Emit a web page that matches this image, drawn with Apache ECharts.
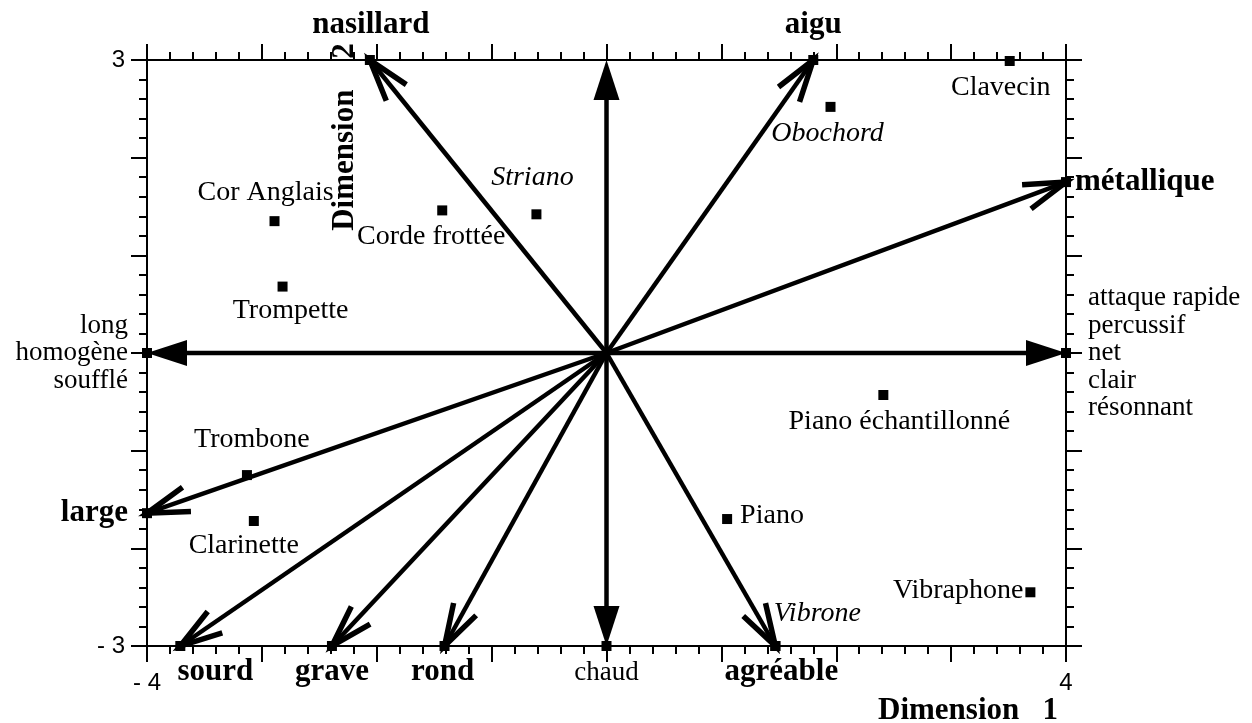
<!DOCTYPE html>
<html><head><meta charset="utf-8">
<script src="https://cdn.jsdelivr.net/npm/echarts@6/dist/echarts.min.js"></script>
<style>html,body{margin:0;padding:0;background:#fff}#c{width:1252px;height:723px}</style>
</head><body><div id="c"></div>
<script>
// ---- data ----
const instrumentNames = ['Clavecin','Obochord','Striano','Corde frottée','Cor Anglais','Trompette','Piano échantillonné','Trombone','Clarinette','Piano','Vibraphone','Vibrone'];
const instrumentX = [3.51, 1.95, -0.61, -1.43, -2.89, -2.82, 2.41, -3.13, -3.07, 1.05, 3.69, 1.47];
const instrumentY = [2.99, 2.52, 1.42, 1.46, 1.35, 0.68, -0.43, -1.25, -1.72, -1.70, -2.45, -3.0];

const poleNames = ['nasillard','aigu','métallique','attaque rapide\npercussif\nnet\nclair\nrésonnant','chaud','agréable','rond','grave','sourd','large','long\nhomogène\nsoufflé',''];
const poleX = [-2.06, 1.80, 4, 4, 0, 1.47, -1.41, -2.39, -3.71, -4, -4, 0];
const poleY = [3, 3, 1.75, 0, -3, -3, -3, -3, -3, -1.64, 0, 3];
const poleHeads = ['open','open','open','filled','filled','open','open','open','open','open','filled','filled'];

const xTickValues = [-4, 4];
const xTickTexts = ['- 4', '4'];
const yTickValues = [-3, 3];
const yTickTexts = ['- 3', '3'];

// ---- layout / style config ----
const SERIF = '"Liberation Serif", "Times New Roman", serif';
const SANS = '"Liberation Sans", Arial, sans-serif';
const instrumentLabelLayout = {
  'Clavecin': {offset: [-9, 27]},
  'Obochord': {offset: [-3, 27], italic: true},
  'Striano': {offset: [-4, -37], italic: true},
  'Corde frottée': {offset: [-11, 26]},
  'Cor Anglais': {offset: [-9, -29]},
  'Trompette': {offset: [8, 24]},
  'Piano échantillonné': {offset: [16, 27]},
  'Trombone': {offset: [5, -35]},
  'Clarinette': {offset: [-10, 25]},
  'Piano': {position: 'right', distance: 8, offset: [0, -3]},
  'Vibraphone': {position: 'left', distance: 2, offset: [0, -2]},
  'Vibrone': {offset: [42, -32], italic: true}
};
const poleLabelLayout = {
  'nasillard': {offset: [1, -35], bold: true},
  'aigu': {offset: [0, -35], bold: true},
  'métallique': {position: 'right', distance: 4, bold: true},
  'attaque rapide\npercussif\nnet\nclair\nrésonnant': {position: 'right', distance: 17, align: 'left'},
  'chaud': {offset: [0, 27]},
  'agréable': {offset: [6, 26], bold: true},
  'rond': {offset: [-2, 26], bold: true},
  'grave': {offset: [0, 26], bold: true},
  'sourd': {offset: [35, 26], bold: true},
  'large': {position: 'left', distance: 14, bold: true},
  'long\nhomogène\nsoufflé': {position: 'left', distance: 14, align: 'right'}
};

function tickFormatter(values, texts) {
  return function (v) {
    const i = values.findIndex(t => Math.abs(t - v) < 1e-9);
    return i >= 0 ? texts[i] : '';
  };
}

function axisCommon(extra) {
  return Object.assign({
    type: 'value',
    interval: 1,
    axisLine: {show: true, onZero: false, lineStyle: {color: '#000', width: 2}},
    axisTick: {show: true, inside: false, length: 16, lineStyle: {color: '#000', width: 2}},
    minorTick: {show: true, splitNumber: 5, length: 8, lineStyle: {color: '#000', width: 2}},
    splitLine: {show: false},
    minorSplitLine: {show: false}
  }, extra);
}

const instrumentData = instrumentNames.map((n, i) => {
  const l = instrumentLabelLayout[n] || {};
  return {
    name: n,
    value: [instrumentX[i], instrumentY[i]],
    label: {
      show: true,
      formatter: n,
      position: l.position || 'inside',
      distance: l.distance != null ? l.distance : 5,
      offset: l.offset || [0, 0],
      color: '#000',
      opacity: 1,
      fontFamily: SERIF,
      fontSize: 28,
      fontStyle: l.italic ? 'italic' : 'normal'
    }
  };
});

const poleData = poleNames.map((n, i) => {
  const l = poleLabelLayout[n] || {};
  return {
    name: n,
    value: [poleX[i], poleY[i]],
    symbol: n === '' ? 'none' : 'rect',
    label: {
      show: n !== '',
      formatter: n,
      position: l.position || 'inside',
      distance: l.distance != null ? l.distance : 5,
      offset: l.offset || [0, 0],
      color: '#000',
      opacity: 1,
      fontFamily: SERIF,
      fontSize: l.bold ? 31 : 27,
      fontWeight: l.bold ? 'bold' : 'normal',
      align: l.align,
      lineHeight: 27.5
    }
  };
});

function renderArrow(params, api) {
  const tip = api.coord([api.value(0), api.value(1)]);
  const o = api.coord([0, 0]);
  const kind = poleHeads[params.dataIndex];
  const dx = tip[0] - o[0], dy = tip[1] - o[1];
  const L = Math.hypot(dx, dy);
  const ux = dx / L, uy = dy / L;
  const children = [];
  const stroke = {stroke: '#000', lineWidth: 4.5, fill: null};
  if (kind === 'filled') {
    const hl = 40, hw = 13;
    const bx = tip[0] - ux * hl, by = tip[1] - uy * hl;
    children.push({type: 'line', shape: {x1: o[0], y1: o[1], x2: bx + ux * 2, y2: by + uy * 2}, style: stroke});
    children.push({type: 'polygon', shape: {points: [tip, [bx - uy * hw, by + ux * hw], [bx + uy * hw, by - ux * hw]]}, style: {fill: '#000'}});
  } else {
    children.push({type: 'line', shape: {x1: o[0], y1: o[1], x2: tip[0], y2: tip[1]}, style: stroke});
    const a = 17 * Math.PI / 180, len = 44;
    const bxv = -ux, byv = -uy;
    const r1 = [bxv * Math.cos(a) - byv * Math.sin(a), bxv * Math.sin(a) + byv * Math.cos(a)];
    const r2 = [bxv * Math.cos(-a) - byv * Math.sin(-a), bxv * Math.sin(-a) + byv * Math.cos(-a)];
    children.push({type: 'polyline', shape: {points: [[tip[0] + r1[0] * len, tip[1] + r1[1] * len], tip, [tip[0] + r2[0] * len, tip[1] + r2[1] * len]]}, style: Object.assign({}, stroke, {lineWidth: 5.5, lineJoin: 'miter'})});
  }
  return {type: 'group', children};
}

const chart = echarts.init(document.getElementById('c'), null, {renderer: 'canvas'});
chart.setOption({
  backgroundColor: '#fff',
  animation: false,
  grid: {left: 147, right: 186, top: 60, bottom: 77, containLabel: false},
  xAxis: [
    axisCommon({position: 'bottom', min: -4, max: 4,
      axisLabel: {show: true, margin: 25, showMinLabel: true, showMaxLabel: true, color: '#000', fontFamily: SANS, fontSize: 24, formatter: tickFormatter(xTickValues, xTickTexts)}}),
    axisCommon({position: 'top', min: -4, max: 4, axisLabel: {show: false}})
  ],
  yAxis: [
    axisCommon({position: 'left', min: -3, max: 3,
      axisLabel: {show: true, margin: 22, showMinLabel: true, showMaxLabel: true, color: '#000', fontFamily: SANS, fontSize: 24, formatter: tickFormatter(yTickValues, yTickTexts)}}),
    axisCommon({position: 'right', min: -3, max: 3, axisLabel: {show: false}})
  ],
  graphic: [
    {type: 'text', x: 345, y: 137, rotation: Math.PI / 2,
      style: {text: 'Dimension    2', font: 'bold 31px ' + SERIF, fill: '#000', textAlign: 'center', textVerticalAlign: 'middle'}, z: 50},
    {type: 'text', x: 1058, y: 711,
      style: {text: 'Dimension   1', font: 'bold 31px ' + SERIF, fill: '#000', textAlign: 'right', textVerticalAlign: 'middle'}, z: 50}
  ],
  series: [
    {type: 'custom', name: 'arrows', xAxisIndex: 0, yAxisIndex: 0, clip: false, z: 2,
      renderItem: renderArrow,
      data: poleX.map((x, i) => [x, poleY[i]])},
    {type: 'scatter', name: 'poles', xAxisIndex: 0, yAxisIndex: 0, clip: false, z: 5,
      symbol: 'rect', symbolSize: 10, itemStyle: {color: '#000', opacity: 1},
      emphasis: {disabled: true},
      data: poleData},
    {type: 'scatter', name: 'instruments', xAxisIndex: 0, yAxisIndex: 0, clip: false, z: 5,
      symbol: 'rect', symbolSize: 10, itemStyle: {color: '#000', opacity: 1},
      emphasis: {disabled: true},
      data: instrumentData}
  ]
});
</script>
</body></html>
